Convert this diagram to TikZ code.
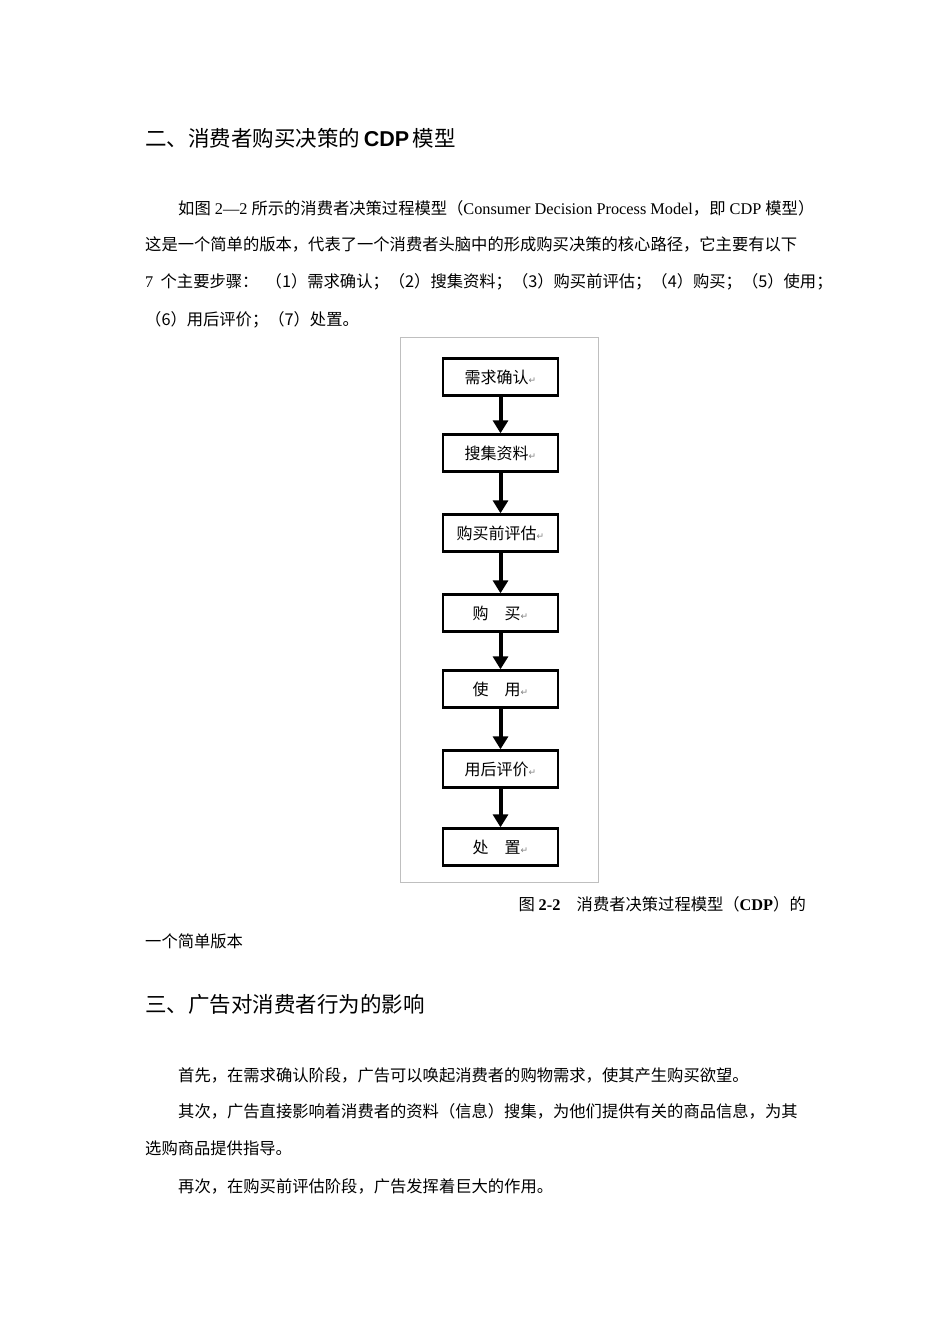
\documentclass[tikz,border=0pt]{standalone}
\usepackage{fontspec}
\usetikzlibrary{arrows.meta}
\setmainfont{Noto Sans CJK SC}
\newfontfamily\sym{DejaVu Sans}
\newfontfamily\lat{Liberation Serif}
\begin{document}
\begin{tikzpicture}[x=1pt,y=-1pt,
  body/.style={anchor=west,inner sep=0,font=\fontsize{16.3}{17}\selectfont},
  head/.style={anchor=west,inner sep=0,font=\fontsize{21.5}{22}\selectfont},
  stepbox/.style={draw,line width=2.4pt,minimum width=115pt,minimum height=37pt,font=\fontsize{16}{16}\selectfont,inner sep=0},
  arr/.style={-{Triangle[length=13pt,width=15pt]},line width=4pt}]
\useasboundingbox (0,0) rectangle (950,1344);
\fill[white] (0,0) rectangle (950,1344);
\node[head] (h1) at (145,138) {二、消费者购买决策的\,\textbf{\fontspec{Liberation Sans}CDP}\,模型};
\node[body] (p1) at (178,208) {如图{\lat\ 2—2\ }所示的消费者决策过程模型（{\lat Consumer Decision Process Model}，即{\lat\ CDP\ }模型）};
\node[body] (p2) at (145,244) {这是一个简单的版本，代表了一个消费者头脑中的形成购买决策的核心路径，它主要有以下};
\node[body] (p3) at (145,282) {{\lat 7}\ \ 个主要步骤：\ \ （1）需求确认；（2）搜集资料；（3）购买前评估；（4）购买；（5）使用；};
\node[body] (p4) at (145,320) {（6）用后评价；（7）处置。};
\draw[gray!50] (400,337) rectangle (598,882);
\foreach \n/\y/\t in {b1/377/需求确认,b2/453/搜集资料,b3/533/购买前评估,b4/613/购\quad 买,b5/689/使\quad 用,b6/769/用后评价,b7/847/处\quad 置}
  \node[stepbox] (\n) at (500.5,\y) {\t{\sym\color{gray}\fontsize{9}{9}\selectfont ↵}};
\foreach \a/\b in {b1/b2,b2/b3,b3/b4,b4/b5,b5/b6,b6/b7}
  \draw[arr] (\a) -- (\b);
\node[body,anchor=east] (cap) at (806,904) {图\ \textbf{\lat 2-2}\quad 消费者决策过程模型（\textbf{\lat CDP}）的};
\node[body] (cap2) at (145,941) {一个简单版本};
\node[head] (h2) at (145,1004) {三、广告对消费者行为的影响};
\node[body] (q1) at (178,1075) {首先，在需求确认阶段，广告可以唤起消费者的购物需求，使其产生购买欲望。};
\node[body] (q2) at (178,1111) {其次，广告直接影响着消费者的资料（信息）搜集，为他们提供有关的商品信息，为其};
\node[body] (q3) at (145,1148) {选购商品提供指导。};
\node[body] (q4) at (178,1186) {再次，在购买前评估阶段，广告发挥着巨大的作用。};
\end{tikzpicture}
\end{document}
